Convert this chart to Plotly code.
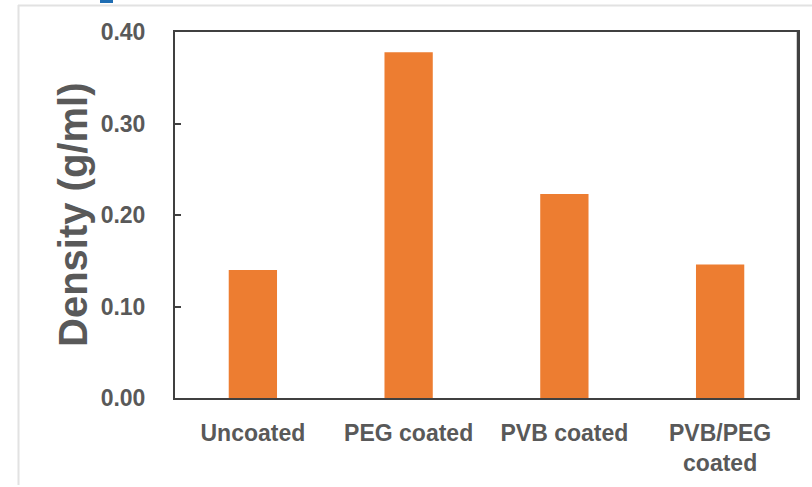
import plotly.graph_objects as go

categories = ["Uncoated", "PEG coated", "PVB coated", "PVB/PEG<br>coated"]
density = [0.140, 0.378, 0.223, 0.146]
tick_vals = [0.0, 0.1, 0.2, 0.3, 0.4]
tick_text = ["0.00", "0.10", "0.20", "0.30", "0.40"]

W, H = 812, 487
L, R, T, B = 175, 798, 32, 398
pw, ph = R - L, B - T

def px(x):
    return (x - L) / pw

def py(y):
    return (B - y) / ph

fig = go.Figure(go.Bar(x=categories, y=density, marker=dict(color="#ED7D31", line=dict(width=0))))

text_col = "#595959"
font_fam = "Liberation Sans, Arial, sans-serif"

fig.update_layout(
    width=W, height=H,
    margin=dict(l=L, r=W - R, t=T, b=H - B),
    paper_bgcolor="white", plot_bgcolor="white",
    bargap=0.69,
    showlegend=False,
    font=dict(family=font_fam, color=text_col),
    xaxis=dict(
        showline=True, linecolor="#404040", linewidth=2, mirror=True,
        ticks="", showgrid=False,
        tickfont=dict(size=23, color=text_col, family=font_fam, weight="bold"),
        ticklabelstandoff=13,
    ),
    yaxis=dict(
        range=[0, 0.4], tickvals=tick_vals, ticktext=tick_text,
        showline=True, linecolor="#404040", linewidth=2, mirror=True,
        ticks="inside", ticklen=6, tickcolor="#404040", tickwidth=1.5,
        showgrid=False, zeroline=False,
        tickfont=dict(size=23, color=text_col, family=font_fam, weight="bold"),
        ticklabelstandoff=23,
    ),
    annotations=[
        dict(text="<b>Density (g/ml)</b>", textangle=-90, xref="paper", yref="paper",
             x=px(73), y=py(215), xanchor="center", yanchor="middle", showarrow=False,
             font=dict(size=40, color=text_col, family=font_fam)),
    ],
    shapes=[
        dict(type="line", xref="paper", yref="paper", x0=px(798), x1=px(798), y0=py(31), y1=py(399),
             line=dict(color="#404040", width=2.5), layer="above"),
        dict(type="line", xref="paper", yref="paper", x0=px(18), x1=px(812), y0=py(5.5), y1=py(5.5),
             line=dict(color="#e2e2e2", width=2)),
        dict(type="line", xref="paper", yref="paper", x0=px(18.5), x1=px(18.5), y0=py(5), y1=py(485),
             line=dict(color="#e2e2e2", width=2)),
        dict(type="rect", xref="paper", yref="paper", x0=px(100), x1=px(113), y0=py(0), y1=py(3),
             fillcolor="#1f6db3", line=dict(width=0)),
    ],
)

fig.write_html("out.html", config={"displayModeBar": False},
               post_script="document.body.style.margin='0';document.body.style.overflow='hidden';")
